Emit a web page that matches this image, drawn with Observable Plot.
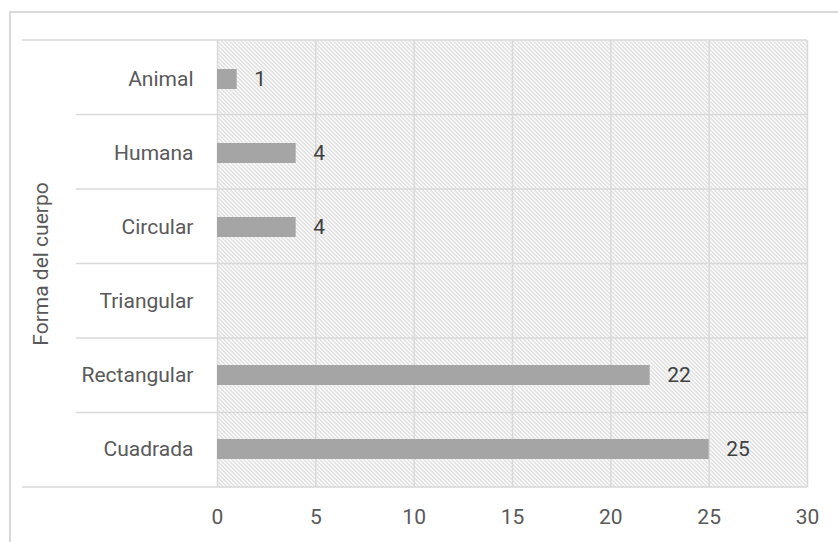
<!DOCTYPE html>
<html>
<head>
<meta charset="utf-8">
<script src="https://cdn.jsdelivr.net/npm/d3@7"></script>
<script src="https://cdn.jsdelivr.net/npm/@observablehq/plot@0.6"></script>
<style>
  html, body { margin: 0; padding: 0; background: #fff; }
  #wrap { position: relative; width: 838px; height: 542px; overflow: hidden; }
  #box { position: absolute; left: 9px; top: 11px; width: 900px; height: 600px;
         border-left: 2px solid #d9d9d9; border-top: 2px solid #d9d9d9; box-sizing: border-box; }
  #chart { position: absolute; left: 0; top: 0; }
</style>
</head>
<body>
<div id="wrap"><div id="box"></div><div id="chart"></div></div>
<script>
const categories = ["Animal", "Humana", "Circular", "Triangular", "Rectangular", "Cuadrada"];
const values = [1, 4, 4, null, 22, 25];
const xTicks = [0, 5, 10, 15, 20, 25, 30];
const axisTitle = "Forma del cuerpo";

const data = categories.map((c, i) => ({forma: c, n: values[i]}));
const shown = data.filter(d => d.n != null);

const W = 838, H = 542;
const plot = Plot.plot({
  width: W,
  height: H,
  marginLeft: 217,
  marginRight: 31,
  marginTop: 40,
  marginBottom: 55,
  style: {fontFamily: "Roboto, 'Open Sans', sans-serif", fontSize: "21px", color: "#595959", background: "transparent"},
  x: {domain: [0, 30], ticks: xTicks, tickSize: 0, tickPadding: 22, label: null},
  y: {domain: categories, paddingInner: 0.73, paddingOuter: 0.365, tickSize: 0, tickPadding: 24,
      label: axisTitle, labelAnchor: "center", labelOffset: 184},
  marks: [
    Plot.frame({fill: "url(#hatch)", stroke: null}),
    Plot.ruleX(xTicks, {stroke: "#d9d9d9", strokeWidth: 1.5}),
    Plot.barX(shown, {x: "n", y: "forma", fill: "#a5a5a5"}),
    Plot.text(shown, {x: "n", y: "forma", text: d => String(d.n), textAnchor: "start", dx: 17, fill: "#404040", fontSize: 21})
  ]
});

// hatch pattern (pixel-aligned diagonal, top-left to bottom-right)
const svg = d3.select(plot);
const defs = svg.insert("defs", ":first-child");
const pat = defs.append("pattern").attr("id", "hatch").attr("patternUnits", "userSpaceOnUse")
  .attr("width", 4).attr("height", 4);
pat.append("rect").attr("width", 4).attr("height", 4).attr("fill", "#ffffff");
for (let r = 0; r < 4; r++) {
  pat.append("rect").attr("x", r).attr("y", r).attr("width", 1).attr("height", 1).attr("fill", "#cdcdcd");
  pat.append("rect").attr("x", (r + 1) % 4).attr("y", r).attr("width", 1).attr("height", 1).attr("fill", "#eaeaea");
}

// category separators, from the y band scale
const ys = plot.scale("y");
const xs = plot.scale("x");
const [r0, r1] = ys.range;
const step = (r1 - r0) / categories.length;
const xRight = xs.apply(30);
const g = svg.append("g").attr("stroke", "#d9d9d9").attr("stroke-width", 1.5);
categories.forEach((c, i) => {
  const y = r0 + i * step;
  g.append("line").attr("x1", i === 0 ? 22 : 76).attr("x2", xRight).attr("y1", y).attr("y2", y);
});
g.append("line").attr("x1", 22).attr("x2", xRight).attr("y1", r1).attr("y2", r1);

document.getElementById("chart").appendChild(plot);
</script>
</body>
</html>
